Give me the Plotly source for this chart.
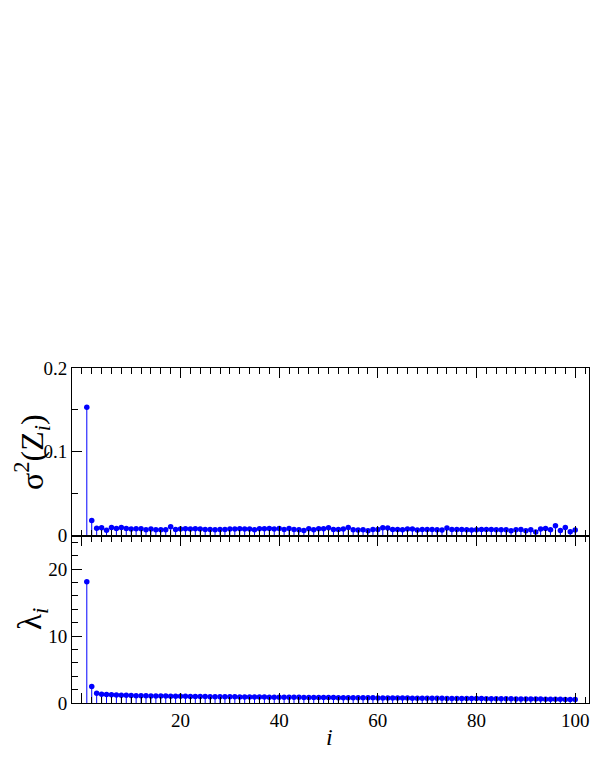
import plotly.graph_objects as go

# chỉ số i
idx = list(range(1, 101))

# phương sai sigma^2(Z_i)
sigma2 = [
    0.153, 0.018, 0.0087, 0.0093, 0.0064, 0.0095, 0.0085, 0.0095, 0.0085, 0.0077,
    0.0081, 0.0081, 0.0069, 0.0077, 0.0069, 0.0069, 0.0069, 0.0105, 0.0073, 0.0077,
    0.0081, 0.0077, 0.0081, 0.0077, 0.0073, 0.0073, 0.0069, 0.0073, 0.0073, 0.0077,
    0.0077, 0.0081, 0.0077, 0.0077, 0.0069, 0.0081, 0.0081, 0.0085, 0.0077, 0.0085,
    0.0073, 0.0085, 0.0073, 0.0069, 0.0061, 0.0081, 0.0069, 0.0081, 0.0081, 0.0093,
    0.0073, 0.0073, 0.0077, 0.0097, 0.0069, 0.0065, 0.0069, 0.0058, 0.0073, 0.0073,
    0.0093, 0.0089, 0.0073, 0.0073, 0.0069, 0.0077, 0.0077, 0.0065, 0.0073, 0.0073,
    0.0073, 0.0069, 0.0065, 0.0089, 0.0073, 0.0073, 0.0073, 0.0069, 0.0065, 0.0069,
    0.0073, 0.0073, 0.0073, 0.0069, 0.0069, 0.0069, 0.0058, 0.0069, 0.0073, 0.0058,
    0.0069, 0.0042, 0.0077, 0.0085, 0.0069, 0.0117, 0.0061, 0.0097, 0.0046, 0.0065,
]

# trị riêng lambda_i
lam = [
    18.1, 2.45, 1.45, 1.32, 1.26, 1.22, 1.19, 1.16, 1.14, 1.12,
    1.10, 1.09, 1.07, 1.06, 1.05, 1.04, 1.03, 1.02, 1.01, 1.00,
    0.99, 0.98, 0.97, 0.965, 0.96, 0.95, 0.945, 0.94, 0.93, 0.925,
    0.92, 0.91, 0.905, 0.90, 0.89, 0.885, 0.88, 0.875, 0.87, 0.86,
    0.855, 0.85, 0.845, 0.84, 0.835, 0.83, 0.825, 0.82, 0.815, 0.81,
    0.805, 0.80, 0.795, 0.79, 0.785, 0.78, 0.775, 0.77, 0.765, 0.76,
    0.755, 0.75, 0.745, 0.74, 0.735, 0.73, 0.725, 0.72, 0.715, 0.71,
    0.705, 0.70, 0.695, 0.69, 0.685, 0.68, 0.675, 0.67, 0.665, 0.66,
    0.655, 0.65, 0.645, 0.64, 0.635, 0.63, 0.62, 0.615, 0.61, 0.60,
    0.595, 0.59, 0.58, 0.575, 0.57, 0.56, 0.55, 0.54, 0.53, 0.52,
]

x_ticks = [0, 20, 40, 60, 80, 100]
x_ticktext = ['', '20', '40', '60', '80', '100']

BLUE = '#0000ff'
FONT = '"Liberation Serif", "Times New Roman", serif'


def stems(x, y, xa, ya):
    # vẽ dạng "stem": thanh lỗi từ điểm xuống 0
    return go.Scatter(
        x=x, y=y, xaxis=xa, yaxis=ya, mode='markers',
        marker=dict(color=BLUE, size=5.5),
        error_y=dict(type='data', symmetric=False, array=[0] * len(y),
                     arrayminus=y, width=0, thickness=1, color=BLUE),
        showlegend=False, hoverinfo='x+y'
    )


fig = go.Figure()
fig.add_trace(stems(idx, sigma2, 'x', 'y'))
fig.add_trace(stems(idx, lam, 'x2', 'y2'))

common_x = dict(
    range=[-2, 102.8], tickmode='array', tickvals=x_ticks, ticktext=x_ticktext,
    ticks='inside', ticklen=10, tickwidth=1, tickcolor='black',
    minor=dict(tickmode='linear', tick0=0, dtick=2, ticks='inside', ticklen=6,
               tickwidth=1, tickcolor='black'),
    showline=True, linecolor='black', linewidth=1, mirror='ticks',
    showgrid=False, zeroline=False,
    tickfont=dict(family=FONT, size=19, color='black'),
)

fig.update_layout(
    width=599, height=776,
    margin=dict(l=64, r=18, t=360, b=81),
    paper_bgcolor='white', plot_bgcolor='white',
    font=dict(family=FONT, color='black'),
    xaxis=dict(common_x, domain=[0, 1], anchor='y', showticklabels=False),
    xaxis2=dict(common_x, domain=[0, 1], anchor='y2', matches='x'),
    yaxis=dict(
        domain=[0.5, 1], anchor='x', range=[0, 0.2],
        tickmode='array', tickvals=[0, 0.1, 0.2], ticktext=['0', '0.1', '0.2'],
        ticks='inside', ticklen=10, tickcolor='black',
        minor=dict(tickmode='linear', tick0=0, dtick=0.05, ticks='inside', ticklen=6,
                   tickcolor='black'),
        showline=True, linecolor='black', linewidth=1, mirror=True,
        showgrid=False, zeroline=False,
        tickfont=dict(family=FONT, size=19, color='black'),
    ),
    yaxis2=dict(
        domain=[0, 0.5], anchor='x2', range=[0, 25],
        tickmode='array', tickvals=[0, 10, 20], ticktext=['0', '10', '20'],
        ticks='inside', ticklen=10, tickcolor='black',
        minor=dict(tickmode='linear', tick0=0, dtick=2, ticks='inside', ticklen=6,
                   tickcolor='black'),
        showline=True, linecolor='black', linewidth=1, mirror=True,
        showgrid=False, zeroline=False,
        tickfont=dict(family=FONT, size=19, color='black'),
    ),
)

# tiêu đề trục
fig.add_annotation(text='σ<sup>2</sup>(Z<sub><i>i</i></sub>)', xref='paper', yref='paper',
                   x=-0.077, y=0.75, xanchor='center', yanchor='middle',
                   textangle=-90, showarrow=False,
                   font=dict(family=FONT, size=32, color='black'))
fig.add_annotation(text='λ<sub><i>i</i></sub>', xref='paper', yref='paper',
                   x=-0.076, y=0.25, xanchor='center', yanchor='middle',
                   textangle=-90, showarrow=False,
                   font=dict(family=FONT, size=33, color='black'))
fig.add_annotation(text='<i>i</i>', xref='paper', yref='paper',
                   x=0.499, y=-0.1, xanchor='center', yanchor='middle', showarrow=False,
                   font=dict(family=FONT, size=24, color='black'))

fig.write_html("out.html")
